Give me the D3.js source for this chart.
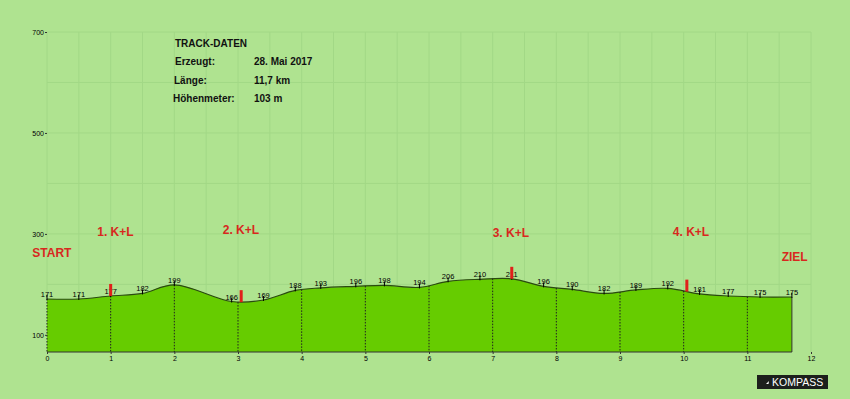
<!DOCTYPE html>
<html>
<head>
<meta charset="utf-8">
<script src="https://cdn.jsdelivr.net/npm/d3@7"></script>
<style>
  body { margin: 0; background: #afe390; }
  svg { display: block; font-family: "Liberation Sans", Arial, sans-serif; }
  .grid line { stroke: #a2d886; stroke-width: 1; }
  .axis text { font-size: 7px; fill: #000; }
  .axis line, .axis path { stroke: #333; }
  path.area { fill: #66cc00; }
  path.line { fill: none; stroke: #2a4a10; stroke-width: 1.2px; }
  .km line { stroke: #222; stroke-dasharray: 1.5 1.5; }
  .pt text { font-size: 7.5px; fill: #000; text-anchor: middle; }
  .pt line { stroke: #000; }
  .marker { fill: #e0201a; }
  .station { fill: #d8281e; font-weight: bold; font-size: 12px; }
  .info { font-weight: bold; font-size: 10px; fill: #111; }
</style>
</head>
<body>
<svg id="svg"></svg>
<script>
// profile points: km, elevation (m)
var km = [0, 0.5, 1.0, 1.5, 2.0, 2.9, 3.4, 3.9, 4.3, 4.85, 5.3, 5.85, 6.3, 6.8, 7.3, 7.8, 8.25, 8.75, 9.25, 9.75, 10.25, 10.7, 11.2, 11.7];
var elev = [171, 171, 177, 182, 199, 166, 169, 188, 193, 196, 198, 194, 206, 210, 211, 196, 190, 182, 189, 192, 181, 177, 175, 175];

// stations (Kontrolle + Labe)
var stationKm = [1.0, 3.05, 7.3, 10.05];
var stationNames = ["1. K+L", "2. K+L", "3. K+L", "4. K+L"];

var xTicks = [0, 1, 2, 3, 4, 5, 6, 7, 8, 9, 10, 11, 12];
var yTicks = [100, 300, 500, 700];

var infoLabels = ["Erzeugt:", "Länge:", "Höhenmeter:"];
var infoValues = ["28. Mai 2017", "11,7 km", "103 m"];

var width = 850, height = 399;
var svg = d3.select("#svg").attr("width", width).attr("height", height);

var x = d3.scaleLinear().domain([0, 12]).range([47, 811]);
var y = d3.scaleLinear().domain([66, 700]).range([352, 32]);

var data = km.map(function(k, i) { return {km: k, ele: elev[i]}; });

// grid
var grid = svg.append("g").attr("class", "grid");
grid.selectAll(".v").data(d3.range(0, 12.01, 0.5)).enter().append("line")
  .attr("x1", function(d) { return x(d); }).attr("x2", function(d) { return x(d); })
  .attr("y1", y(700)).attr("y2", y(66));
grid.selectAll(".h").data(d3.range(200, 701, 100)).enter().append("line")
  .attr("x1", x(0)).attr("x2", x(12))
  .attr("y1", function(d) { return y(d); }).attr("y2", function(d) { return y(d); });

var curve = d3.curveCatmullRom.alpha(0.5);
var area = d3.area().curve(curve)
  .x(function(d) { return x(d.km); })
  .y0(y(66))
  .y1(function(d) { return y(d.ele); });
var line = d3.line().curve(curve)
  .x(function(d) { return x(d.km); })
  .y(function(d) { return y(d.ele); });

svg.append("path").datum(data).attr("class", "area").attr("d", area);

// profile height at any km
var pathNode = svg.append("path").datum(data).attr("class", "line").attr("d", line).node();
function yAt(k) {
  var px = x(k), len = pathNode.getTotalLength(), lo = 0, hi = len;
  for (var i = 0; i < 30; i++) {
    var mid = (lo + hi) / 2;
    if (pathNode.getPointAtLength(mid).x < px) lo = mid; else hi = mid;
  }
  return pathNode.getPointAtLength(lo).y;
}

// km drop lines
var kmG = svg.append("g").attr("class", "km");
kmG.selectAll("line").data(d3.range(1, 12)).enter().append("line")
  .attr("x1", function(d) { return x(d); }).attr("x2", function(d) { return x(d); })
  .attr("y1", function(d) { return yAt(d); }).attr("y2", y(66));
kmG.append("line").attr("x1", x(0)).attr("x2", x(0)).attr("y1", y(elev[0])).attr("y2", y(66));
svg.append("line").attr("x1", x(11.7)).attr("x2", x(11.7))
  .attr("y1", y(elev[elev.length - 1])).attr("y2", y(66)).attr("stroke", "#333");
svg.append("line").attr("x1", x(0)).attr("x2", x(11.7))
  .attr("y1", y(66)).attr("y2", y(66)).attr("stroke", "#333");

// x axis
var xAxis = d3.axisBottom(x).tickValues(xTicks).tickSize(2).tickPadding(2).tickFormat(d3.format("d"));
svg.append("g").attr("class", "axis")
  .attr("transform", "translate(0," + y(66) + ")")
  .call(xAxis)
  .call(function(g) { g.select(".domain").remove(); });

// y axis
var yAxis = d3.axisLeft(y).tickValues(yTicks).tickSize(2).tickPadding(1);
svg.append("g").attr("class", "axis")
  .attr("transform", "translate(" + x(0) + ",0)")
  .call(yAxis)
  .call(function(g) { g.select(".domain").remove(); });

// point labels
var pt = svg.append("g").attr("class", "pt").selectAll("g").data(data).enter().append("g")
  .attr("transform", function(d) { return "translate(" + x(d.km) + "," + yAt(d.km) + ")"; });
pt.append("line").attr("y1", -4).attr("y2", 1);
pt.append("text").attr("y", -2).text(function(d) { return d.ele; });

// station markers
svg.selectAll(".marker").data(stationKm).enter().append("rect")
  .attr("class", "marker")
  .attr("x", function(d) { return x(d) - 1.5; })
  .attr("width", 3)
  .attr("y", function(d) { return yAt(d) - 12; })
  .attr("height", 12);

var stationText = [
  {t: "START", k: -0.23, ele: 254},
  {t: stationNames[0], k: 0.79, ele: 296},
  {t: stationNames[1], k: 2.76, ele: 300},
  {t: stationNames[2], k: 7.0, ele: 294},
  {t: stationNames[3], k: 9.83, ele: 296},
  {t: "ZIEL", k: 11.54, ele: 246}
];
svg.selectAll(".station").data(stationText).enter().append("text")
  .attr("class", "station")
  .attr("x", function(d) { return x(d.k); })
  .attr("y", function(d) { return y(d.ele); })
  .text(function(d) { return d.t; });

// track info
var info = svg.append("g").attr("class", "info");
info.append("text").attr("x", 175).attr("y", 47).text("TRACK-DATEN");
infoLabels.forEach(function(l, i) {
  info.append("text").attr("x", 175 - i).attr("y", 65 + i * 18.5).text(l);
  info.append("text").attr("x", 254).attr("y", 65 + i * 18.5).text(infoValues[i]);
});

// logo
var logo = svg.append("g").attr("transform", "translate(757,375)");
logo.append("rect").attr("width", 71).attr("height", 14).attr("fill", "#1c1f1c");
logo.append("path").attr("d", "M9,9 L12,6 L11.5,9 Z").attr("fill", "#fff");
logo.append("text").attr("x", 15).attr("y", 11).attr("fill", "#fff")
  .style("font-size", "10.5px").text("KOMPASS");
</script>
</body>
</html>
